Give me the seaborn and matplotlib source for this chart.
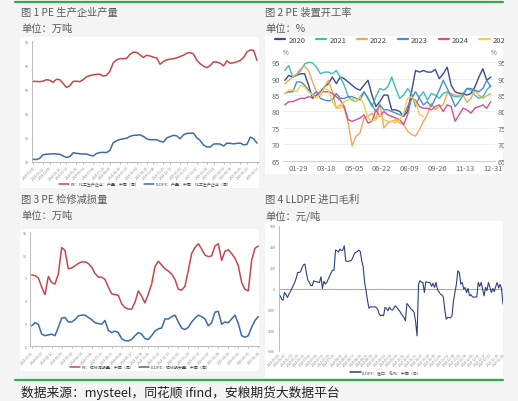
import numpy as np
import pandas as pd
import matplotlib
matplotlib.use("Agg")
import matplotlib.pyplot as plt
import seaborn as sns
from matplotlib.patches import Rectangle
from matplotlib.lines import Line2D

W, H = 518, 402

# Fig 1: PE / LLDPE weekly output (10k t)
pe_output = [53.3, 53.3, 53.2, 53.4, 54.0, 53.8, 52.9, 54.2, 54.0, 52.5,
             50.8, 51.5, 53.3, 53.4, 53.2, 54.0, 55.2, 55.7, 56.0, 56.2,
             56.3, 55.5, 55.8, 57.5, 61.0, 62.2, 62.7, 62.7, 62.8, 64.5,
             65.4, 65.3, 64.3, 63.2, 64.1, 63.8, 63.3, 63.0, 60.4, 61.5,
             62.2, 62.5, 62.7, 63.0, 63.6, 64.1, 65.0, 65.2, 64.7, 62.0,
             60.6, 59.6, 59.0, 59.8, 61.4, 61.3, 60.8, 59.7, 61.8, 60.8,
             61.0, 61.4, 62.0, 63.2, 65.5, 66.3, 66.1, 62.0]
lldpe_output = [21.1, 21.0, 21.5, 23.0, 23.2, 23.3, 23.4, 23.3, 23.2, 22.5,
                21.9, 22.2, 23.8, 23.6, 23.4, 23.3, 23.3, 22.8, 22.5, 23.5,
                23.9, 24.0, 23.9, 24.8, 28.0, 28.8, 29.3, 29.6, 29.8, 30.6,
                31.0, 31.1, 31.2, 30.6, 29.6, 29.2, 29.2, 29.2, 28.6, 28.2,
                29.9, 30.5, 31.0, 30.8, 29.6, 31.2, 31.8, 31.9, 31.9, 30.0,
                28.9, 27.0, 26.2, 26.2, 27.4, 27.5, 27.4, 26.6, 27.8, 27.7,
                27.5, 27.7, 27.8, 27.1, 27.3, 30.3, 29.6, 27.8]
output_dates = pd.date_range("2024-03-01", periods=len(pe_output), freq="7D")

# Fig 2: PE operating rate by year (%)
rate_years = ["2020", "2021", "2022", "2023", "2024", "2025"]
rate_2020 = [89.5, 91, 90.5, 91, 91.5, 91.5, 88, 84, 85, 86, 87.5, 88.5, 90.5, 88.5,
             90.5, 90, 89, 88, 87, 86.5, 88, 89.5, 85, 81.5, 83, 85, 85, 80.5, 80.5,
             80, 78.5, 80, 86, 92.5, 92, 92.5, 92, 92, 92.8, 90, 91.5, 93.5, 88, 86,
             85.5, 85.5, 85, 85.5, 87.5, 90.5, 93, 89.5, 90.5]
rate_2021 = [92.5, 94, 90.5, 91, 92.5, 94.5, 95, 94.8, 93.5, 91.5, 92, 92, 91.5, 92.5,
             90.5, 88, 84.5, 83.5, 83, 84.5, 86, 84, 81.5, 84.5, 87, 86.5, 87.5, 90.5,
             87, 84, 85, 87, 85.5, 81.5, 84.5, 86, 83.5, 85.5, 85, 84, 85.5, 86, 85,
             84.5, 84.5, 85.5, 87, 86.5, 85, 84, 84.5, 86.5, 88]
rate_2022 = [88.5, 89.5, 90.5, 91.5, 93, 93.8, 92.5, 89, 86, 85, 87.5, 89.5, 86, 81,
             82, 81, 76.5, 69.5, 72.5, 73.5, 78, 78.5, 79.5, 77.5, 82.5, 75, 76.5, 77,
             77.5, 76.5, 76, 74, 73, 72.5, 74.5, 77, 79, 82.5, 80.5, 81.5, 82, 85.5,
             85.5, 85, 84.8, 85, 82.8, 84, 86.5, 85, 84, 84.8, 85.5]
rate_2023 = [85.5, 86, 86, 89, 89, 88, 86.5, 85, 86, 84, 83.5, 83.2, 83.5, 85.5, 84,
             84, 84.5, 84.5, 84, 83.5, 86, 84, 82, 80, 82, 80.5, 80.5, 80, 79.5, 79,
             78.5, 81.5, 84, 86, 84, 82, 83, 81.5, 84, 86.5, 89.5, 87, 84.5, 81.5, 83,
             85, 87, 87, 86.5, 86, 87, 89.5, 87.5]
rate_2024 = [82, 83, 83, 83.5, 84, 84, 84.5, 84.2, 85, 86, 86, 86, 85.5, 84.5, 83.5,
             81.5, 77.5, 77, 77.5, 78, 79, 76.5, 77, 80.5, 78.5, 80, 79, 78.5, 78,
             77.5, 76, 79, 84, 83.5, 81.5, 81, 81, 80.5, 81.5, 82, 80, 82, 81.5, 77,
             79, 81, 80.5, 79.5, 81, 81.5, 82, 81, 83]
rate_2025 = [85.5, 86.5, 86.5, 86, 88, 87.5, 86, 85, 84, 85.5, 87, 86.5, 83, 81, 81,
             83, 83.5, 84, 83, 84.5, 82, 78, 77, 77.5, 79, 77.5, 77, 77, 76.5, 77.5,
             79.5, 84, 84.5, 83, 79, 78.5]
rate_colors = ["#3b4b8e", "#3dbfae", "#f2a65a", "#4a8dcc", "#d4508c", "#f2d04b"]
rate_ticks = ["01-29", "03-18", "05-05", "06-22", "08-09", "09-26", "11-13", "12-31"]

# Fig 3: maintenance loss (10k t)
pe_loss = [9.4, 9.3, 9.0, 7.8, 6.8, 9.2, 8.4, 8.2, 9.5, 13.0, 12.6, 10.2, 10.3, 10.6,
           10.9, 11.1, 11.1, 10.9, 10.4, 9.6, 9.1, 9.1, 8.8, 7.8, 6.9, 6.8, 6.7, 5.6,
           5.1, 4.9, 4.9, 5.8, 7.3, 6.6, 5.7, 6.9, 8.2, 10.5, 11.2, 10.7, 10.2, 9.9,
           9.5, 8.8, 7.5, 7.4, 7.9, 10.0, 12.2, 13.0, 13.5, 12.8, 12.0, 11.8, 11.9,
           13.2, 13.5, 11.3, 12.5, 12.7, 12.2, 11.6, 10.6, 8.4, 7.5, 7.3, 11.3, 12.9, 13.2]
lldpe_loss = [2.7, 3.1, 2.9, 1.6, 1.4, 1.5, 1.6, 1.4, 2.5, 3.7, 3.8, 3.2, 3.2, 3.5,
              4.0, 4.1, 4.1, 3.8, 3.5, 3.1, 3.0, 2.9, 3.4, 2.1, 1.8, 2.0, 1.8, 1.0,
              0.75, 0.7, 0.9, 1.4, 1.8, 1.6, 1.0, 0.9, 1.4, 2.0, 2.3, 2.4, 3.6, 3.6,
              3.9, 4.1, 3.2, 2.4, 2.2, 2.5, 3.2, 3.7, 4.1, 3.9, 3.6, 2.7, 3.1, 4.5,
              4.6, 2.9, 3.2, 3.1, 3.6, 4.1, 3.0, 1.4, 1.2, 1.4, 2.5, 3.4, 3.9]
loss_dates = pd.date_range("2024-03-01", periods=len(pe_loss), freq="7D")

# Fig 4: LLDPE import margin (yuan/t)
import_margin = [-54, -70, -102, -112, -38, -60, -86, -54, -30, 0, 30, 58,
                 99, 154, 154, 160, 200, 228, 234, 150, 80, 60, 30, 26,
                 74, 67, 65, 60, 58, 112, 0, 70, 42, 60, 90, 122, 150, 176, 176,
                 368, 362, 350, 378, 365, 368, 410, 266, 259, 262, 265, 272, 300, 339,
                 346, 355, 368, 355, 266, 208,
                 58, -22, -118, -189, -176, -176, -178, -176, -182, -200, -246, -262, -255,
                 -262, -182, -190, -214, -180, -200, -208, -190, -166, -180, -200, -214,
                 -240, -260, -278, -310, -144, -160, -180, -198, -210, -230, -320, -454,
                 42, 74, 60, 58, -38, 64, 60, 58, 55, 20, 50, 10, 58, -10, -30, -54,
                 -60, -80, -200, -294,
                 -278, -280, -282, -262, -118, -38, 42, 170, 154,
                 42, 58, -5, 10, -40, 0, -70, -60, -80, -82, -82, -80, 58, 20, 58, -5,
                 -70, 10, -20, 58, 10, -38, 0, -30, 20, 58, 5, 40, 0, -150]
margin_dates = pd.bdate_range("2024-06-03", periods=len(import_margin))

sns.set_theme(style="white")
plt.rcParams['font.family'] = ['Noto Sans CJK SC', 'DejaVu Sans']
plt.rcParams['axes.unicode_minus'] = False

bg = "#f4f4f4"
grey_txt = "#5a5a5a"
red = "#c5474e"
blue = "#3c6ca6"

fig = plt.figure(figsize=(W / 100, H / 100), dpi=100, facecolor=bg)


def box(x0, y0, x1, y1):
    return [x0 / W, 1 - y1 / H, (x1 - x0) / W, (y1 - y0) / H]


def white_panel(x0, y0, x1, y1):
    fig.add_artist(Rectangle((x0 / W, 1 - y1 / H), (x1 - x0) / W, (y1 - y0) / H,
                             transform=fig.transFigure, facecolor="white",
                             edgecolor="none", zorder=-1))


def ftext(x, y, s, **kw):
    fig.text(x / W, 1 - y / H, s, va="center", **kw)


def excel_axes(ax):
    ax.set_facecolor("none")
    for s in ["top", "right"]:
        ax.spines[s].set_visible(False)
    for s in ["left", "bottom"]:
        ax.spines[s].set_color("#b0b0b0")
        ax.spines[s].set_linewidth(0.6)
    ax.tick_params(axis="y", labelsize=2.6, colors="#777777", length=1.5, width=0.4, pad=1)
    ax.tick_params(axis="x", labelsize=2.3, colors="#888888", length=1.5, width=0.4,
                   pad=1, rotation=45, bottom=True)
    ax.set_xlabel("")
    ax.set_ylabel("")


def date_ticks(ax, dates, n):
    pos = np.round(np.linspace(0, len(dates) - 1, n)).astype(int)
    ax.set_xticks(pos)
    ax.set_xticklabels([dates[i].strftime("%Y-%m-%d") for i in pos], ha="right",
                       rotation_mode="anchor")


def small_legend(x, y, items, gap):
    fig.legend(handles=[Line2D([], [], color=c, lw=1.1) for c, _ in items],
               labels=[t for _, t in items], loc="center", ncol=len(items),
               bbox_to_anchor=(x / W, 1 - y / H), frameon=False, fontsize=2.9,
               handlelength=2.6, handletextpad=0.3, columnspacing=gap,
               borderpad=0, labelcolor="#444444")


# panels
white_panel(20, 38, 259, 189)
white_panel(265, 37, 503, 175)
white_panel(20, 230, 259, 372)
white_panel(265, 222, 503, 379)

# green rules
fig.add_artist(Line2D([15 / W, 503 / W], [1 - 3 / H, 1 - 3 / H], color="#35a94b",
                      lw=1.6, transform=fig.transFigure))
fig.add_artist(Line2D([15 / W, 503 / W], [1 - 381 / H, 1 - 381 / H], color="#35a94b",
                      lw=1.6, transform=fig.transFigure))

# titles
ftext(21, 13, "图 1 PE 生产企业产量", fontsize=7.4, color=grey_txt)
ftext(21, 29, "单位：万吨", fontsize=7.4, color=grey_txt)
ftext(265, 13, "图 2 PE 装置开工率", fontsize=7.4, color=grey_txt)
ftext(265, 29, "单位：%", fontsize=7.4, color=grey_txt)
ftext(21, 200, "图 3 PE 检修减损量", fontsize=7.4, color=grey_txt)
ftext(21, 216, "单位：万吨", fontsize=7.4, color=grey_txt)
ftext(265, 200, "图 4 LLDPE 进口毛利", fontsize=7.4, color=grey_txt)
ftext(265, 216, "单位：元/吨", fontsize=7.4, color=grey_txt)
ftext(21, 393, "数据来源：mysteel，同花顺 ifind，安粮期货大数据平台", fontsize=9.2,
      color="#222222")

# ---- Fig 1
ax1 = fig.add_axes(box(32, 42, 258.5, 163))
x1 = np.arange(len(pe_output))
sns.lineplot(x=x1, y=pe_output, ax=ax1, color=red, lw=1.1)
sns.lineplot(x=x1, y=lldpe_output, ax=ax1, color=blue, lw=1.1)
ax1.set_xlim(-0.3, len(pe_output) - 0.55)
ax1.set_ylim(20, 70)
ax1.set_yticks(range(20, 71, 10))
excel_axes(ax1)
date_ticks(ax1, output_dates, 27)
small_legend(145, 185, [(red, "PE：化工生产企业：产量：中国（周）"),
                        (blue, "LLDPE：产量：中国：化工生产企业（周）")], 1.2)

# ---- Fig 2
ax2 = fig.add_axes(box(283, 56.7, 495, 161.7))
ax2.set_facecolor("none")
rate_lists = [rate_2020, rate_2021, rate_2022, rate_2023, rate_2024, rate_2025]
rate_df = pd.concat([pd.DataFrame({"week": np.arange(len(v)), "rate": v, "year": y})
                     for y, v in zip(rate_years, rate_lists)])
sns.lineplot(data=rate_df, x="week", y="rate", hue="year", palette=rate_colors,
             ax=ax2, lw=1.0, legend=False)
ax2.set_xlim(-0.46, 53.07)
ax2.set_ylim(65, 97)
ax2.set_yticks(range(65, 96, 5))
ax2.set_xticks([3.5 + 7 * k for k in range(len(rate_ticks))])
ax2.set_xticklabels(rate_ticks)
ax2.grid(axis="y", color="#ededed", lw=0.6)
ax2.set_axisbelow(True)
for s in ["top", "right", "left"]:
    ax2.spines[s].set_visible(False)
ax2.spines["bottom"].set_color("#c6cfe0")
ax2.spines["bottom"].set_linewidth(0.8)
ax2.tick_params(axis="both", labelsize=5.4, colors="#666666", length=0, pad=2.5)
ax2.tick_params(axis="y", labelright=True, pad=2)
ax2.set_xlabel("")
ax2.set_ylabel("")
ftext(283, 53, "%", fontsize=4.5, color="#666666")
ftext(491, 53, "%", fontsize=4.5, color="#666666")
fig.legend(handles=[Line2D([], [], color=c, lw=1.6) for c in rate_colors],
           labels=rate_years, loc="center left", ncol=6,
           bbox_to_anchor=(271 / W, 1 - 41 / H), frameon=False, fontsize=5.4,
           handlelength=1.35, handletextpad=0.45, columnspacing=1.4, borderpad=0,
           labelcolor="#444444")
# right edge of panel 2 is cut off in the source
fig.add_artist(Rectangle((503.5 / W, 1 - 176 / H), 20 / W, 140 / H,
                         transform=fig.transFigure, facecolor=bg, edgecolor="none",
                         zorder=20))

# ---- Fig 3
ax3 = fig.add_axes(box(30, 233.3, 258.5, 347.3))
x3 = np.arange(len(pe_loss))
sns.lineplot(x=x3, y=pe_loss, ax=ax3, color=red, lw=1.1)
sns.lineplot(x=x3, y=lldpe_loss, ax=ax3, color=blue, lw=1.1)
ax3.set_xlim(-0.5, len(pe_loss) - 0.94)
ax3.set_ylim(0, 15)
ax3.set_yticks(range(0, 16, 3))
excel_axes(ax3)
date_ticks(ax3, loss_dates, 24)
small_legend(140, 368, [(red, "PE：检修减损量：中国（周）"),
                        (blue, "LLDPE：检修损失量：中国（周）")], 1.2)

# ---- Fig 4
ax4 = fig.add_axes(box(278.7, 227, 503, 352))
x4 = np.arange(len(import_margin))
sns.lineplot(x=x4, y=import_margin, ax=ax4, color="#2f3e82", lw=0.8)
ax4.axhline(0, color="#9a9a9a", lw=0.6, zorder=0)
ax4.set_xlim(0, len(import_margin) - 1)
ax4.set_ylim(-600, 600)
ax4.set_yticks(range(-600, 601, 200))
excel_axes(ax4)
ax4.spines["bottom"].set_visible(False)
date_ticks(ax4, margin_dates, 37)
ax4.tick_params(axis="x", length=0)
small_legend(386, 373, [("#2f3e82", "LLDPE：进口：毛利：中国（日）")], 1.0)

fig.savefig("out.png", dpi=100, facecolor=bg)
